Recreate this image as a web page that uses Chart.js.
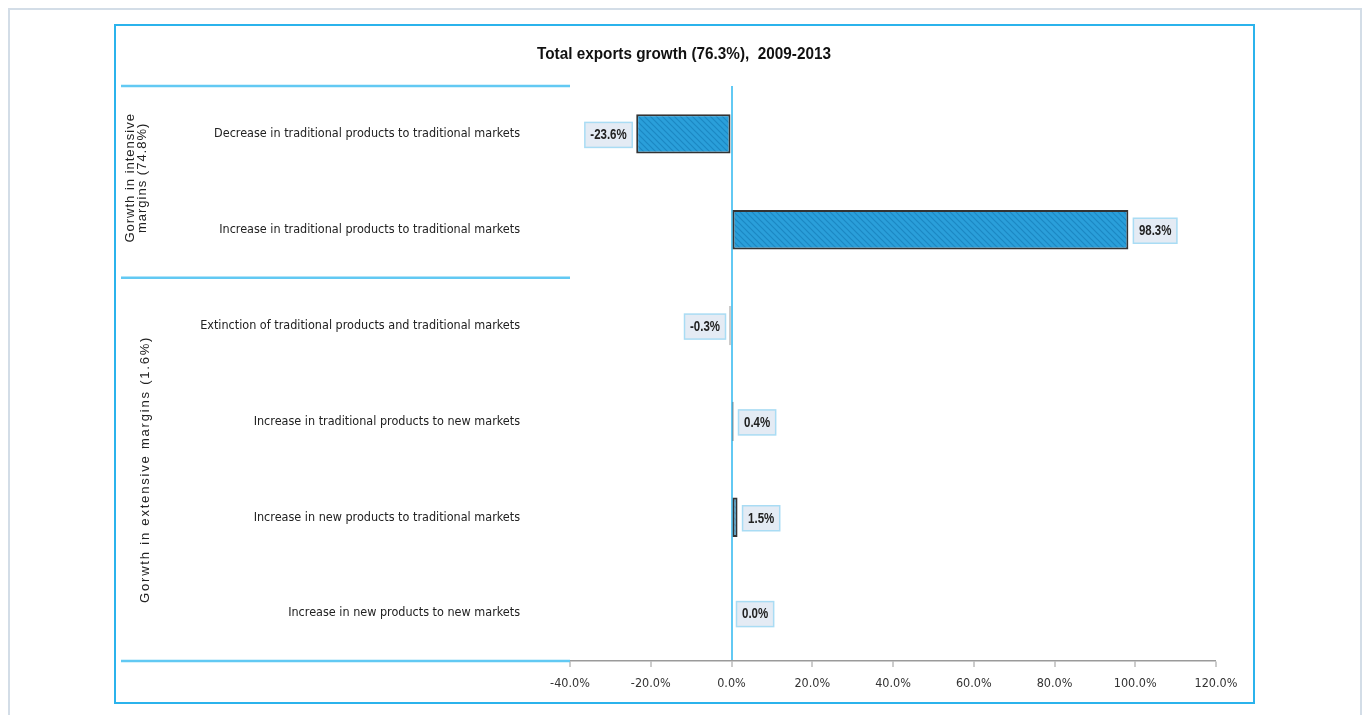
<!DOCTYPE html>
<html><head><meta charset="utf-8">
<script src="https://cdn.jsdelivr.net/npm/chart.js@4.4.0/dist/chart.umd.min.js"></script>
<style>
html,body{margin:0;padding:0;background:#fff;width:1365px;height:715px;overflow:hidden;}
#outer{position:absolute;left:8px;top:8px;width:1350px;height:720px;border:2px solid #d3dde7;border-bottom:none;}
#inner{position:absolute;left:114px;top:24px;width:1137px;height:676px;border:2px solid #2bb3ec;}
#wrap{position:absolute;left:0;top:0;width:1365px;height:715px;}
</style></head><body>
<div id="outer"></div><div id="inner"></div>
<div id="wrap"><canvas id="c" width="1365" height="715"></canvas></div>
<script>
const chartTitle = 'Total exports growth (76.3%),  2009-2013';
const categories = [
  'Decrease in traditional products to traditional markets',
  'Increase in traditional products to traditional markets',
  'Extinction of traditional products and traditional markets',
  'Increase in traditional products to new markets',
  'Increase in new products to traditional markets',
  'Increase in new products to new markets'
];
const values = [-23.6, 98.3, -0.3, 0.4, 1.5, 0.0];
const groupLabels = [['Gorwth in intensive', 'margins (74.8%)'], ['Gorwth in extensive margins (1.6%)']];
const groupFirst = [0, 2];
const groupLast = [1, 5];
const axisMin = -40, axisMax = 120, axisStep = 20;

const COND = '"DejaVu Sans Condensed", "Liberation Sans Narrow", sans-serif';
const SANS = '"Liberation Sans", Arial, sans-serif';
const LINE_BLUE = '#62c9f3';
const NARROW_X = 0.82;
const PLOT_BOTTOM = 661;

function makePattern() {
  const p = document.createElement('canvas');
  p.width = 6; p.height = 6;
  const g = p.getContext('2d');
  g.fillStyle = '#2a9fda';
  g.fillRect(0, 0, 6, 6);
  g.strokeStyle = '#1c88c3';
  g.lineWidth = 1.2;
  g.beginPath();
  g.moveTo(-1, -1); g.lineTo(7, 7);
  g.moveTo(-4, 2); g.lineTo(4, 10);
  g.moveTo(2, -4); g.lineTo(10, 4);
  g.stroke();
  return document.getElementById('c').getContext('2d').createPattern(p, 'repeat');
}
const hatch = makePattern();

// draw text horizontally condensed (Arial Narrow look)
function narrowText(ctx, txt, x, y, sx) {
  ctx.save();
  ctx.translate(x, y);
  ctx.scale(sx || NARROW_X, 1);
  ctx.fillText(txt, 0, 0);
  ctx.restore();
}

const decorPlugin = {
  id: 'decor',
  afterDraw(chart) {
    const ctx = chart.ctx;
    const area = chart.chartArea;
    const y = chart.scales.y;
    // title
    ctx.save();
    ctx.font = 'bold 17px ' + SANS;
    ctx.fillStyle = '#111';
    ctx.textAlign = 'center';
    ctx.textBaseline = 'middle';
    narrowText(ctx, chartTitle, 684, 54, 0.9);
    ctx.restore();
    // group separators and labels
    const half = (y.getPixelForValue(1) - y.getPixelForValue(0)) / 2;
    const bounds = new Set();
    groupFirst.forEach((f, i) => {
      bounds.add(Math.round((y.getPixelForValue(f) - half) * 10) / 10);
      bounds.add(Math.round((y.getPixelForValue(groupLast[i]) + half) * 10) / 10);
    });
    ctx.save();
    ctx.strokeStyle = LINE_BLUE;
    ctx.lineWidth = 2.5;
    bounds.forEach(b => {
      ctx.beginPath(); ctx.moveTo(121, b); ctx.lineTo(area.left, b); ctx.stroke();
    });
    ctx.restore();
    groupLabels.forEach((lines, i) => {
      const top = y.getPixelForValue(groupFirst[i]) - half;
      const bot = y.getPixelForValue(groupLast[i]) + half;
      const cy = (top + bot) / 2 - (lines.length > 1 ? 4 : 0);
      ctx.save();
      ctx.font = '13px ' + SANS;
      ctx.fillStyle = '#222';
      ctx.textAlign = 'center';
      ctx.textBaseline = 'middle';
      ctx.letterSpacing = lines.length > 1 ? '1px' : '1.8px';
      const lh = 12.5;
      const cx0 = lines.length > 1 ? 130 : 145;
      lines.forEach((ln, k) => {
        ctx.save();
        ctx.translate(cx0 + k * lh, cy);
        ctx.rotate(-Math.PI / 2);
        ctx.fillText(ln, 0, 0);
        ctx.restore();
      });
      ctx.restore();
    });
    // data labels
    const meta = chart.getDatasetMeta(0);
    ctx.save();
    ctx.font = 'bold 14px ' + SANS;
    ctx.textBaseline = 'middle';
    ctx.textAlign = 'center';
    meta.data.forEach((bar, i) => {
      const v = values[i];
      const txt = v.toFixed(1) + '%';
      const w = ctx.measureText(txt).width * NARROW_X + 11;
      const h = 25;
      const endX = v === 0 ? chart.scales.x.getPixelForValue(0) : bar.x;
      let left;
      if (v < 0) left = endX - 4 - w; else left = endX + 5;
      const top = bar.y - h / 2 + 1;
      ctx.fillStyle = '#e4ebf4';
      ctx.fillRect(left, top, w, h);
      ctx.strokeStyle = '#a9dcf4';
      ctx.lineWidth = 1.5;
      ctx.strokeRect(left, top, w, h);
      ctx.fillStyle = '#222';
      narrowText(ctx, txt, left + w / 2, top + h / 2 + 0.5);
    });
    ctx.restore();
  }
};

const chart = new Chart(document.getElementById('c'), {
  type: 'bar',
  data: {
    labels: categories,
    datasets: [{
      data: values,
      backgroundColor: c => (values[c.dataIndex] === 0 ? 'rgba(0,0,0,0)' : hatch),
      borderColor: c => (values[c.dataIndex] === 0 ? 'rgba(0,0,0,0)' : '#333'),
      borderWidth: 2,
      borderSkipped: false,
      minBarLength: 2,
      categoryPercentage: 1,
      barPercentage: 0.41
    }]
  },
  options: {
    indexAxis: 'y',
    responsive: false,
    animation: false,
    layout: { padding: { top: 86, right: 149, bottom: 26, left: 0 } },
    plugins: { legend: { display: false }, title: { display: false }, tooltip: { enabled: false } },
    scales: {
      x: {
        min: axisMin, max: axisMax,
        border: { display: true, color: '#9a9a9a', width: 1.5 },
        grid: {
          drawOnChartArea: true,
          color: c => (c.tick && c.tick.value === 0 ? LINE_BLUE : 'rgba(0,0,0,0)'),
          lineWidth: c => (c.tick && c.tick.value === 0 ? 2 : 0),
          tickColor: '#9a9a9a',
          tickLength: 6,
          tickWidth: 1
        },
        ticks: {
          stepSize: axisStep,
          padding: 9,
          color: '#333',
          font: { family: COND, size: 12.5 },
          callback: v => Number(v).toFixed(1) + '%'
        }
      },
      y: {
        afterFit(s) { s.width = 570; },
        border: { display: false },
        grid: { display: false },
        ticks: {
          padding: 42,
          color: '#222',
          font: { family: COND, size: 12.5 }
        }
      }
    }
  },
  plugins: [decorPlugin]
});
// align the plot bottom with the reference frame
for (let k = 0; k < 3; k++) {
  const dy = chart.chartArea.bottom - PLOT_BOTTOM;
  if (Math.abs(dy) < 0.5) break;
  chart.options.layout.padding.bottom += dy;
  chart.update();
}
</script>
</body></html>
